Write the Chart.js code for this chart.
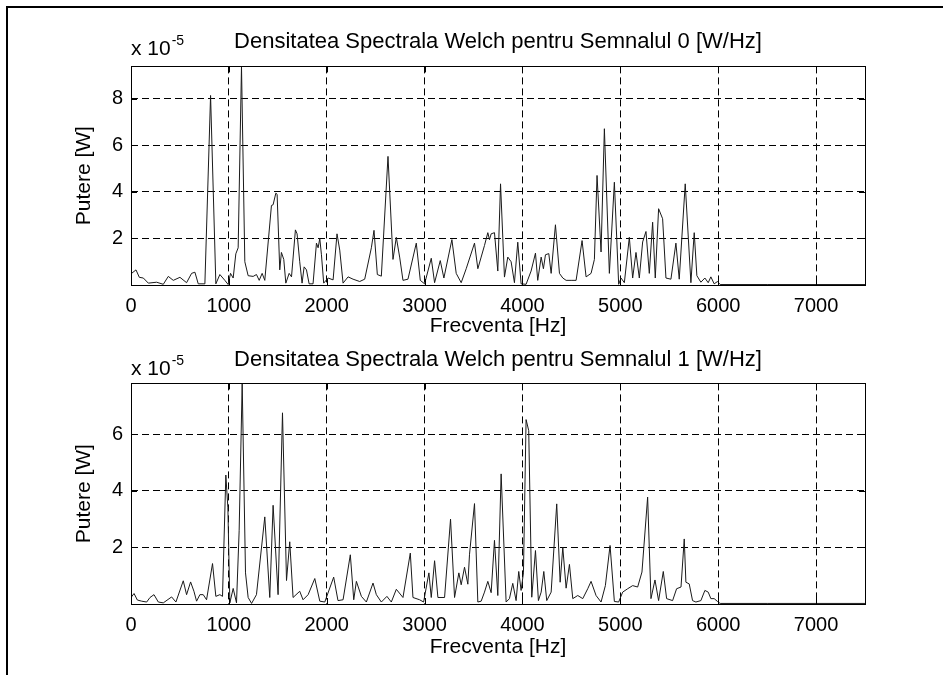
<!DOCTYPE html>
<html>
<head>
<meta charset="utf-8">
<script src="https://cdn.jsdelivr.net/npm/chart.js@4/dist/chart.umd.min.js"></script>
<style>
  html, body { margin: 0; padding: 0; background: #fff; overflow: hidden; }
  #frame { position: absolute; left: 6px; top: 6px; width: 1000px; height: 800px;
           border-left: 2px solid #000; border-top: 2px solid #000; }
  canvas { position: absolute; left: 0; }
  #c0 { top: 0; }
  #c1 { top: 340px; }
</style>
</head>
<body>
<div id="frame"></div>
<canvas id="c0" width="943" height="340"></canvas>
<canvas id="c1" width="943" height="335"></canvas>
<script>
// Welch PSD, values in units of 1e-5 W, frequency in Hz
const freq0 = [0, 51, 85, 126, 177, 262, 330, 381, 432, 500, 568, 619, 653, 687, 755, 813, 867, 908, 959, 993,
  1017, 1044, 1071, 1095, 1129, 1163, 1197, 1248, 1282, 1310, 1340, 1367, 1435, 1452, 1480, 1493, 1520, 1537, 1561, 1582,
  1616, 1640, 1680, 1697, 1724, 1748, 1769, 1793, 1820, 1860, 1895, 1912, 1929, 1946, 1969, 2014, 2065, 2105, 2133, 2167,
  2218, 2269, 2337, 2388, 2456, 2483, 2517, 2558, 2626, 2677, 2711, 2745, 2779, 2830, 2915, 2956, 3000, 3068, 3102, 3160,
  3197, 3279, 3323, 3374, 3425, 3510, 3544, 3578, 3612, 3646, 3663, 3680, 3714, 3748, 3776, 3816, 3850, 3884, 3918, 3952,
  3986, 4037, 4088, 4133, 4156, 4191, 4214, 4235, 4269, 4293, 4337, 4378, 4412, 4446, 4497, 4548, 4609, 4650, 4701, 4735,
  4762, 4803, 4837, 4888, 4939, 4983, 5007, 5041, 5092, 5126, 5160, 5194, 5228, 5262, 5296, 5330, 5357, 5391, 5432, 5466,
  5517, 5568, 5602, 5663, 5721, 5755, 5782, 5823, 5864, 5898, 5925, 5959, 5993, 6020, 6500, 7000, 7500];
const psd0 = [0.48, 0.65, 0.33, 0.30, 0.08, 0.12, 0.03, 0.37, 0.2, 0.33, 0.1, 0.5, 0.55, 0.05, 0.05, 8.15, 0.05, 0.45, 0.2, 0.02,
  0.5, 0.3, 1.34, 1.6, 9.4, 1.0, 0.4, 0.37, 0.45, 0.2, 0.5, 0.2, 3.42, 3.45, 3.95, 3.9, 0.65, 1.4, 1.1, 0.08,
  0.5, 0.35, 2.37, 2.2, 1.0, 0.08, 0.78, 0.65, 0.05, 0.05, 1.8, 1.6, 2.0, 1.3, 0.08, 0.3, 0.22, 2.2, 1.5, 0.08,
  0.35, 0.25, 0.15, 0.25, 1.6, 2.35, 0.45, 0.38, 5.53, 1.1, 2.05, 1.2, 0.2, 0.25, 1.8, 0.2, 0.05, 1.15, 0.1, 1.05,
  0.3, 1.95, 0.5, 0.1, 0.7, 1.8, 0.7, 1.2, 1.7, 2.25, 1.95, 2.2, 2.25, 0.6, 4.35, 0.34, 1.2, 1.0, 0.1, 1.84,
  0.05, 0.03, 0.6, 1.37, 0.2, 1.2, 0.7, 1.3, 1.35, 0.5, 2.59, 0.5, 0.3, 0.2, 0.2, 0.2, 1.91, 0.35, 0.5, 1.1,
  4.71, 1.42, 6.72, 0.5, 4.42, 0.03, 0.3, 0.1, 2.05, 0.3, 1.4, 0.3, 1.85, 2.3, 0.5, 2.7, 0.3, 3.28, 2.85, 0.3,
  0.25, 1.8, 0.25, 4.35, 0.1, 2.25, 0.4, 0.12, 0.3, 0.1, 0.35, 0.05, 0.15, 0.02, 0.02, 0.02, 0.02];

const freq1 = [0, 31, 65, 109, 160, 194, 235, 279, 330, 415, 459, 534, 568, 609, 643, 670, 704, 738, 772, 833,
  867, 908, 935, 969, 990, 1010, 1044, 1078, 1105, 1136, 1170, 1197, 1232, 1282, 1367, 1418, 1452, 1503, 1548, 1589,
  1622, 1656, 1724, 1758, 1810, 1878, 1929, 1980, 2071, 2115, 2167, 2241, 2276, 2303, 2354, 2405, 2473, 2507, 2558, 2615,
  2660, 2711, 2779, 2854, 2881, 2949, 2990, 3044, 3068, 3102, 3136, 3204, 3265, 3306, 3350, 3374, 3408, 3442, 3459, 3510,
  3544, 3578, 3612, 3646, 3680, 3714, 3748, 3782, 3833, 3867, 3901, 3935, 3962, 3986, 4010, 4037, 4064, 4095, 4133, 4163,
  4191, 4218, 4248, 4293, 4350, 4385, 4412, 4446, 4480, 4514, 4565, 4616, 4667, 4701, 4752, 4803, 4847, 4895, 4939, 4983,
  5024, 5075, 5126, 5177, 5221, 5279, 5313, 5354, 5391, 5439, 5473, 5534, 5575, 5620, 5653, 5670, 5704, 5738, 5772, 5823,
  5864, 5898, 5925, 5959, 5993, 6020, 6500, 7000, 7500];
const psd1 = [0.23, 0.37, 0.14, 0.1, 0.07, 0.23, 0.33, 0.07, 0.04, 0.25, 0.07, 0.82, 0.33, 0.78, 0.45, 0.1, 0.33, 0.33, 0.15, 1.43,
  0.27, 0.33, 0.27, 4.56, 3.4, 0.04, 0.55, 0.04, 2.59, 7.8, 1.1, 0.23, 0.02, 0.33, 3.08, 0.23, 3.49, 0.33, 6.76, 0.83,
  2.2, 0.23, 0.45, 0.15, 0.33, 0.9, 0.1, 0.07, 0.95, 0.12, 0.15, 1.74, 0.15, 0.8, 0.27, 0.07, 0.74, 0.33, 0.07, 0.27,
  0.07, 0.52, 0.23, 1.8, 0.23, 0.15, 0.07, 1.1, 0.23, 1.53, 0.23, 0.23, 3.0, 0.23, 1.1, 0.68, 1.3, 0.7, 1.76, 3.55,
  0.07, 0.1, 0.42, 0.8, 0.4, 2.25, 0.3, 4.6, 0.07, 0.19, 0.73, 0.12, 1.15, 0.48, 1.1, 6.52, 6.13, 0.24, 1.89, 0.12,
  0.42, 1.15, 0.12, 0.42, 3.54, 0.77, 2.0, 0.56, 1.4, 0.19, 0.3, 0.19, 0.54, 0.8, 0.3, 0.07, 0.65, 2.07, 0.09, 0.07,
  0.42, 0.54, 0.65, 0.6, 1.13, 3.78, 0.19, 0.85, 0.12, 1.15, 0.19, 0.12, 0.54, 0.6, 2.3, 0.77, 0.71, 0.12, 0.07, 0.12,
  0.48, 0.42, 0.19, 0.19, 0.09, 0.02, 0.02, 0.02, 0.02];

// tick labels
const xTicks = [0, 1000, 2000, 3000, 4000, 5000, 6000, 7000];
const yTicks0 = [2, 4, 6, 8];
const yTicks1 = [2, 4, 6];

const titles = ['Densitatea Spectrala Welch pentru Semnalul 0 [W/Hz]', 'Densitatea Spectrala Welch pentru Semnalul 1 [W/Hz]'];
const FONT = "'Liberation Sans', Arial, sans-serif";

Chart.defaults.font.family = FONT;
Chart.defaults.color = '#000';

// closed box, inward ticks and the "x 10^-5" multiplier, matlab style
const matlabAxes = {
  id: 'matlabAxes',
  afterDraw(chart, args, opts) {
    const ctx = chart.ctx, a = chart.chartArea;
    const xs = chart.scales.x, ys = chart.scales.y;
    ctx.save();
    ctx.strokeStyle = '#000';
    ctx.lineWidth = 1;
    ctx.setLineDash([]);
    ctx.strokeRect(Math.round(a.left) + 0.5, Math.round(a.top) + 0.5, Math.round(a.right - a.left), Math.round(a.bottom - a.top));
    ctx.beginPath();
    xs.ticks.forEach(t => {
      const px = Math.round(xs.getPixelForValue(t.value)) + 0.5;
      ctx.moveTo(px, a.bottom); ctx.lineTo(px, a.bottom - 6);
      ctx.moveTo(px, a.top); ctx.lineTo(px, a.top + 6);
    });
    ys.ticks.forEach(t => {
      const py = Math.round(ys.getPixelForValue(t.value)) + 0.5;
      ctx.moveTo(a.left, py); ctx.lineTo(a.left + 6, py);
      ctx.moveTo(a.right, py); ctx.lineTo(a.right - 6, py);
    });
    ctx.stroke();
    ctx.fillStyle = '#000';
    ctx.textBaseline = 'alphabetic';
    ctx.textAlign = 'left';
    ctx.font = '21px ' + FONT;
    const base = a.top - opts.offset;
    ctx.fillText('x 10', a.left, base);
    const w = ctx.measureText('x 10').width;
    ctx.font = '14px ' + FONT;
    ctx.fillText('-5', a.left + w + 1, base - 10);
    ctx.restore();
  }
};

function makeChart(id, freq, psd, title, ymax, yTicks, opt) {
  return new Chart(document.getElementById(id), {
    type: 'line',
    data: {
      datasets: [{
        data: freq.map((f, i) => ({ x: f, y: psd[i] })),
        borderColor: '#1a1a1a',
        borderWidth: 1,
        pointRadius: 0,
        tension: 0,
        fill: false
      }]
    },
    options: {
      responsive: false,
      animation: false,
      layout: { padding: { left: 0, right: 78, top: 0, bottom: 0 } },
      plugins: {
        legend: { display: false },
        tooltip: { enabled: false },
        title: {
          display: true,
          fullSize: false,
          text: title,
          font: { size: 22, weight: 'normal' },
          color: '#000',
          padding: { top: opt.titleTop, bottom: opt.titleBottom }
        },
        matlabAxes: { offset: opt.expOffset }
      },
      scales: {
        x: {
          type: 'linear',
          min: 0,
          max: 7500,
          afterFit: s => { s.height = opt.xHeight; },
          afterBuildTicks: s => { s.ticks = xTicks.map(v => ({ value: v })); },
          ticks: { padding: 9, font: { size: 20 }, maxRotation: 0, autoSkip: false, callback: v => String(v) },
          grid: {
            drawTicks: false,
            color: c => (c.tick && c.tick.value === 0) ? 'rgba(0,0,0,0)' : '#000'
          },
          border: { display: false, dash: [7, 4] },
          title: { display: true, text: 'Frecventa [Hz]', font: { size: 21 }, padding: { top: 0, bottom: opt.xTitleBottom } }
        },
        y: {
          min: 0,
          max: ymax,
          afterFit: s => { s.width = 131; },
          afterBuildTicks: s => { s.ticks = yTicks.map(v => ({ value: v })); },
          ticks: { padding: 8, font: { size: 20 }, autoSkip: false, callback: v => String(v) },
          grid: { drawTicks: false, color: '#000' },
          border: { display: false, dash: [7, 4] },
          title: { display: true, text: 'Putere [W]', font: { size: 21 }, padding: { top: 72, bottom: 0 } }
        }
      }
    },
    plugins: [matlabAxes]
  });
}

makeChart('c0', freq0, psd0, titles[0], 9.4, yTicks0, { titleTop: 29, titleBottom: 11, xHeight: 55, xTitleBottom: 1, expOffset: 11 });
makeChart('c1', freq1, psd1, titles[1], 7.8, yTicks1, { titleTop: 7, titleBottom: 10, xHeight: 71, xTitleBottom: 15, expOffset: 8 });
</script>
</body>
</html>
